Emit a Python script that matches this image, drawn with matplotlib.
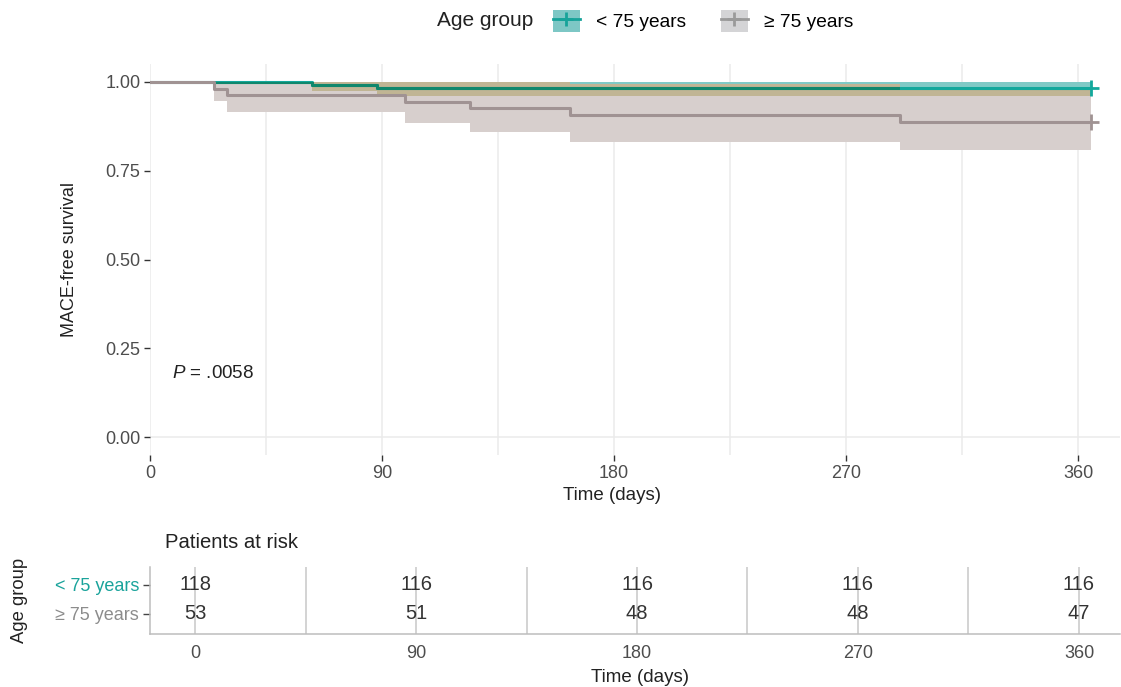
import numpy as np
import matplotlib
matplotlib.use('Agg')
import matplotlib.pyplot as plt
from matplotlib.patches import Patch
from matplotlib.lines import Line2D
from matplotlib.legend_handler import HandlerTuple

plt.rcParams['font.family'] = ['Liberation Sans', 'DejaVu Sans']
plt.rcParams['mathtext.fontset'] = 'custom'
plt.rcParams['mathtext.it'] = 'Liberation Sans:italic'
plt.rcParams['mathtext.rm'] = 'Liberation Sans'

# ---------------- data ----------------
group_labels = ['< 75 years', '\u2265 75 years']

young_times = [0, 63, 88, 365]
young_surv = [1.0, 0.9915, 0.983, 0.983]
young_lower = [1.0, 0.975, 0.960, 0.960]
young_upper = [1.0, 1.0, 1.0, 1.0]

old_times = [0, 25, 30, 99, 124, 163, 291, 365]
old_surv = [1.0, 0.981, 0.962, 0.943, 0.925, 0.906, 0.887, 0.887]
old_lower = [1.0, 0.947, 0.915, 0.885, 0.858, 0.830, 0.808, 0.808]
old_upper = [1.0, 1.0, 1.0, 1.0, 1.0, 0.995, 0.977, 0.977]

risk_times = [0, 90, 180, 270, 360]
young_at_risk = [118, 116, 116, 116, 116]
old_at_risk = [53, 51, 48, 48, 47]

p_text = r'$P$ = .0058'

# ---------------- styles ----------------
TEAL = '#13a89c'
TEAL_DARK = '#0f876c'
TEAL_BAND = '#80cac6'
GRAY_LINE = '#a09393'
GRAY_BAND = '#d7cfcd'
OVERLAP = '#c0b594'
GRID = '#ebebeb'
TXT = '#4d4d4d'

W, H = 1121, 687
fig = plt.figure(figsize=(W / 100, H / 100), dpi=100)


def px_rect(l, t, r, b):
    return [l / W, 1 - b / H, (r - l) / W, (b - t) / H]


# ---------------- main survival panel ----------------
ax = fig.add_axes(px_rect(150, 64, 1120, 455))
ax.set_xlim(0, 376.3)
ax.set_ylim(-0.05, 1.05)

ax.fill_between(young_times, young_lower, young_upper, step='post',
                color=TEAL_BAND, lw=0, zorder=1)
gray_band = ax.fill_between(old_times, old_lower, old_upper, step='post',
                            color=GRAY_BAND, lw=0, zorder=1.1)


def stepval(t, times, vals):
    idx = np.searchsorted(times, t, side='right') - 1
    return np.asarray(vals)[idx]


grid_t = np.union1d(young_times, old_times)
ov_lo = np.maximum(stepval(grid_t, young_times, young_lower),
                   stepval(grid_t, old_times, old_lower))
ov_hi = np.minimum(stepval(grid_t, young_times, young_upper),
                   stepval(grid_t, old_times, old_upper))
ax.fill_between(grid_t, ov_lo, np.maximum(ov_hi, ov_lo), step='post',
                color=OVERLAP, lw=0, zorder=1.2)

ax.step(young_times, young_surv, where='post', color=TEAL, lw=2.2, zorder=2)
dark, = ax.step(young_times, young_surv, where='post', color=TEAL_DARK,
                lw=2.2, zorder=2.1)
dark.set_clip_path(gray_band.get_paths()[0], ax.transData)
ax.step(old_times, old_surv, where='post', color=GRAY_LINE, lw=2.2, zorder=3)

ax.plot(young_times[-1], young_surv[-1], marker='+', color=TEAL, ms=11,
        mew=2, zorder=4)
ax.plot(old_times[-1], old_surv[-1], marker='+', color=GRAY_LINE, ms=11,
        mew=2, zorder=4)

ax.set_xticks(risk_times)
ax.set_xticks([45, 135, 225, 315], minor=True)
ax.set_yticks([0, 0.25, 0.5, 0.75, 1.0])
ax.set_yticklabels(['0.00', '0.25', '0.50', '0.75', '1.00'])
ax.grid(True, axis='x', which='both', color=GRID, lw=1.1, zorder=0)
ax.axhline(0, color=GRID, lw=1.1, zorder=0)
ax.set_axisbelow(True)
for s in ax.spines.values():
    s.set_visible(False)
ax.tick_params(axis='both', which='major', labelsize=13, labelcolor=TXT,
               color='#333333', length=4, width=1)
ax.tick_params(axis='x', which='minor', length=0)
ax.tick_params(axis='x', pad=3)
ax.tick_params(axis='y', pad=3)

ax.set_xlabel('Time (days)', fontsize=13.5, color='#222222')
ax.xaxis.label.set_va('center')
ax.xaxis.set_label_coords((612 - 150) / 970, (455 - 495) / 391)
ax.set_ylabel('MACE-free survival', fontsize=13, color='#222222')
ax.yaxis.label.set_va('center')
ax.yaxis.set_label_coords((70 - 150) / 970, 0.5)

ax.text(8.5, 0.18, p_text, fontsize=13.5, color='#222222',
        ha='left', va='center')

# ---------------- legend ----------------
fig.text(437 / W, 1 - 21 / H, 'Age group', fontsize=15, color='#222222',
         ha='left', va='center')
h1 = (Patch(facecolor='#7dc7c5', edgecolor='none'),
      Line2D([], [], color='#16a39a', lw=2, marker='+', ms=10, mew=2))
h2 = (Patch(facecolor='#d4d4d6', edgecolor='none'),
      Line2D([], [], color='#9a9a9a', lw=2, marker='+', ms=10, mew=2))
fig.legend([h1, h2], group_labels,
           handler_map={tuple: HandlerTuple(ndivide=1, pad=0)},
           loc='center left', bbox_to_anchor=(553 / W, 1 - 21 / H), ncol=2,
           frameon=False, fontsize=13.8, handlelength=1.4, handleheight=1.4,
           handletextpad=0.85, columnspacing=1.8, borderpad=0, borderaxespad=0)

# ---------------- risk table ----------------
rx = fig.add_axes(px_rect(150, 567, 1120, 634))
rx.set_xlim(-18.33, 376.7)
rx.set_ylim(0.31, 2.62)
for t, y_n, o_n in zip(risk_times, young_at_risk, old_at_risk):
    rx.text(t, 2, str(y_n), ha='center', va='center', fontsize=14.5, color='#333333')
    rx.text(t, 1, str(o_n), ha='center', va='center', fontsize=14.5, color='#333333')
rx.set_xticks(risk_times)
rx.set_xticks([45, 135, 225, 315], minor=True)
rx.grid(True, axis='x', which='both', color='#c8c8c8', lw=1.1)
rx.set_axisbelow(True)
rx.set_yticks([2, 1])
rx.set_yticklabels(group_labels)
rx.get_yticklabels()[0].set_color('#1aa39b')
rx.get_yticklabels()[1].set_color('#8c8c8c')
for k in ['top', 'right']:
    rx.spines[k].set_visible(False)
for k in ['left', 'bottom']:
    rx.spines[k].set_color('#bdbdbd')
    rx.spines[k].set_linewidth(1.1)
rx.tick_params(axis='x', which='both', length=0, pad=8, labelsize=13, labelcolor=TXT)
rx.tick_params(axis='y', length=5, width=1, color='#444444', pad=3, labelsize=13)
rx.set_xlabel('Time (days)', fontsize=13.5, color='#222222')
rx.xaxis.label.set_va('center')
rx.xaxis.set_label_coords(0.505, (634 - 677) / 67)
rx.set_ylabel('Age group', fontsize=13.3, color='#222222')
rx.yaxis.label.set_va('center')
rx.yaxis.set_label_coords((20 - 150) / 970, 0.5)
fig.text(165 / W, 1 - 543 / H, 'Patients at risk', fontsize=14.6,
         color='#222222', ha='left', va='center')

fig.savefig('out.png', dpi=100)
